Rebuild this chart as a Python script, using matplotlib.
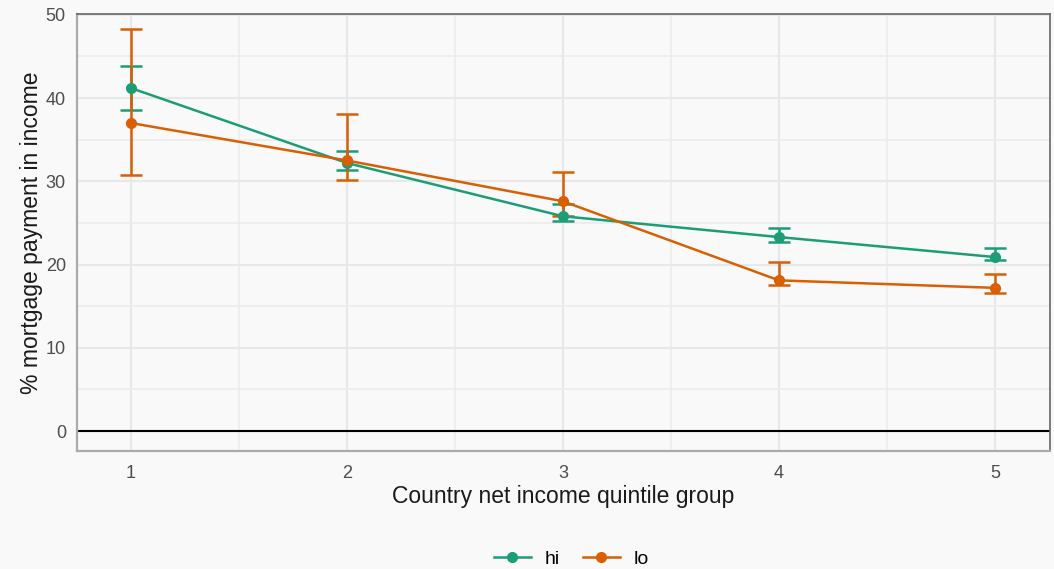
import matplotlib.pyplot as plt
from matplotlib.lines import Line2D
from matplotlib.ticker import MultipleLocator

plt.rcParams['font.family'] = ['Liberation Sans', 'DejaVu Sans']

# quintile groups and mortgage burden estimates
quintiles = [1, 2, 3, 4, 5]
hi_mean = [41.2, 32.2, 25.8, 23.3, 20.9]
hi_low = [38.6, 31.4, 25.2, 22.75, 20.5]
hi_high = [43.9, 33.65, 27.3, 24.4, 22.0]
lo_mean = [37.0, 32.5, 27.6, 18.1, 17.2]
lo_low = [30.8, 30.2, 25.8, 17.5, 16.6]
lo_high = [48.3, 38.1, 31.1, 20.3, 18.9]

groups = [
    ('hi', hi_mean, hi_low, hi_high, '#1b9e77'),
    ('lo', lo_mean, lo_low, lo_high, '#d95f02'),
]

bg = '#f9f9f9'
fig = plt.figure(figsize=(10.54, 5.69), dpi=100, facecolor=bg)
ax = fig.add_axes([77 / 1054, 1 - 451 / 569, 973 / 1054, 437 / 569])
ax.set_facecolor(bg)

handles = []
for name, mean, low, high, color in groups:
    yerr = [[m - l for m, l in zip(mean, low)], [h - m for m, h in zip(mean, high)]]
    ax.errorbar(quintiles, mean, yerr=yerr, color=color, lw=1.8,
                elinewidth=1.8, capsize=8, capthick=1.8,
                marker='o', markersize=7, zorder=3)
    handles.append(Line2D([], [], color=color, lw=1.8, marker='o', markersize=7, label=name))

ax.axhline(0, color='black', lw=1.5, zorder=2)

ax.set_xlim(0.75, 5.255)
ax.set_ylim(-2.4, 50.1)
ax.xaxis.set_major_locator(MultipleLocator(1))
ax.xaxis.set_minor_locator(MultipleLocator(0.5))
ax.yaxis.set_major_locator(MultipleLocator(10))
ax.yaxis.set_minor_locator(MultipleLocator(5))
ax.grid(which='major', color='#e8e8e8', lw=1.6, zorder=0)
ax.grid(which='minor', color='#ebebeb', lw=1.1, zorder=0)
ax.set_axisbelow(True)

ax.tick_params(which='both', length=0, labelsize=13, labelcolor='#4d4d4d')
ax.tick_params(axis='x', pad=10)
ax.tick_params(axis='y', pad=8)

for side in ('left', 'bottom'):
    ax.spines[side].set_color('#aaaaaa')
    ax.spines[side].set_linewidth(1.6)
for side in ('top', 'right'):
    ax.spines[side].set_color('#666666')
    ax.spines[side].set_linewidth(1.2)

ax.set_xlabel('Country net income quintile group', fontsize=16.5, color='#1a1a1a', labelpad=2)
ax.set_ylabel('% mortgage payment in income', fontsize=16.5, color='#1a1a1a', labelpad=2)

fig.legend(handles=handles, loc='center', bbox_to_anchor=(0.542, 1 - 559 / 569), ncol=2,
           frameon=False, fontsize=14, handlelength=1.9, columnspacing=1.2, handletextpad=0.7)

fig.savefig('out.png', dpi=100, facecolor=bg)
